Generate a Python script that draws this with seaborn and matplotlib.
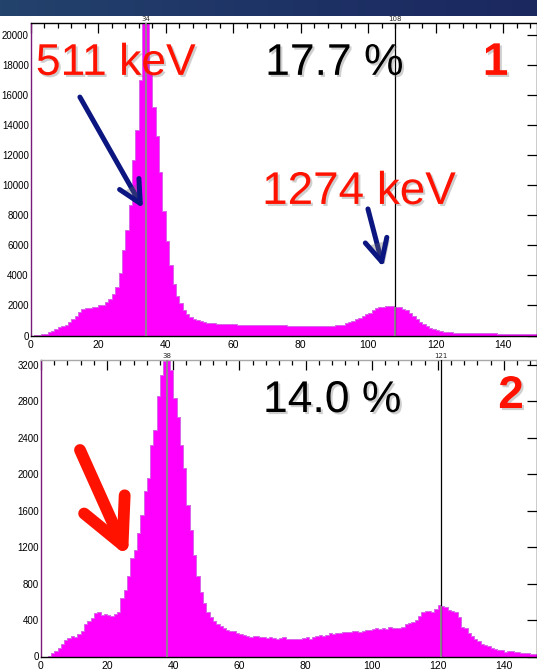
import numpy as np
import pandas as pd
import matplotlib
matplotlib.use("Agg")
import matplotlib.pyplot as plt
import matplotlib.patheffects as pe
from matplotlib.colors import LinearSegmentedColormap
from matplotlib.ticker import MultipleLocator
import seaborn as sns

# ---------------- data ----------------
bin_edges = list(range(0, 151))

top_counts = [
    0, 20, 40, 70, 100, 200, 330, 440, 550, 600,
    730, 890, 1100, 1330, 1550, 1780, 1840, 1850, 1890, 1930,
    2000, 2060, 2220, 2440, 2780, 3220, 4150, 5660, 7000, 8660,
    11660, 13650, 17000, 21500, 21500, 17500, 15200, 13300, 10900, 8300,
    6300, 4660, 3440, 2660, 2150, 1680, 1400, 1240, 1100, 1020,
    955, 890, 845, 820, 800, 780, 760, 750, 745, 740,
    735, 720, 715, 710, 705, 700, 700, 695, 690, 690,
    685, 680, 680, 675, 670, 670, 665, 660, 660, 655,
    655, 650, 650, 648, 645, 645, 648, 650, 655, 665,
    680, 700, 730, 820, 890, 955, 1065, 1150, 1265, 1400,
    1510, 1665, 1800, 1890, 1930, 1975, 1990, 1970, 1930, 1890,
    1780, 1665, 1490, 1310, 1110, 930, 780, 620, 510, 420,
    355, 310, 265, 222, 200, 185, 180, 175, 170, 165,
    160, 155, 150, 150, 145, 140, 140, 135, 130, 130,
    125, 120, 120, 115, 110, 110, 105, 100, 100, 95,
]

bottom_counts = [
    0, 0, 10, 37, 55, 90, 135, 180, 200, 220,
    210, 245, 280, 355, 385, 420, 480, 490, 455, 470,
    455, 445, 465, 485, 640, 730, 880, 1080, 1170, 1350,
    1550, 1810, 1955, 2320, 2485, 2850, 3090, 3235, 3300, 3140,
    2830, 2630, 2320, 2065, 1660, 1390, 1115, 880, 710, 585,
    490, 430, 385, 355, 330, 310, 290, 280, 275, 258,
    248, 240, 222, 215, 222, 222, 218, 215, 207, 210,
    200, 196, 200, 218, 193, 193, 196, 196, 193, 207,
    211, 193, 211, 226, 233, 229, 240, 255, 251, 262,
    255, 266, 273, 266, 284, 277, 273, 280, 288, 295,
    302, 309, 306, 309, 302, 324, 317, 313, 317, 324,
    357, 368, 379, 404, 448, 484, 502, 495, 491, 524,
    568, 550, 539, 513, 495, 484, 433, 324, 313, 258,
    222, 193, 175, 142, 127, 120, 95, 84, 76, 69,
    51, 62, 55, 44, 44, 40, 33, 33, 25, 25,
]

top_peak_line = 34
top_marker_line = 108
bottom_peak_line = 38
bottom_marker_line = 121

x_ticks = [0, 20, 40, 60, 80, 100, 120, 140]
top_yticks = [0, 2000, 4000, 6000, 8000, 10000, 12000, 14000, 16000, 18000, 20000]
bottom_yticks = [0, 400, 800, 1200, 1600, 2000, 2400, 2800, 3200]
top_ylim = 20800
bottom_ylim = 3250

top_texts = ["511 keV", "17.7 %", "1", "1274 keV"]
bottom_texts = ["14.0 %", "2"]

# ---------------- style ----------------
sns.set_style("white")
plt.rcParams["font.family"] = ["Liberation Sans", "DejaVu Sans"]

MAG = "#ff00ff"
EDGE = "#d866e8"
NAVY = "#0c1680"
RED = "#ff1200"
GRAYLINE = "#8c8c8c"

W, H = 537, 671
fig = plt.figure(figsize=(W / 100, H / 100), dpi=100)
fig.patch.set_facecolor("white")


def frac_box(left, top, right, bottom):
    return [left / W, 1 - bottom / H, (right - left) / W, (bottom - top) / H]


ax1 = fig.add_axes(frac_box(30.8, 23, 537, 335.5))
ax2 = fig.add_axes(frac_box(41, 360, 537, 656.5))

centers = [e + 0.5 for e in bin_edges[:-1]]
df_top = pd.DataFrame({"channel": centers, "counts": top_counts})
df_bot = pd.DataFrame({"channel": centers, "counts": bottom_counts})

for ax, df in ((ax1, df_top), (ax2, df_bot)):
    sns.histplot(data=df, x="channel", weights="counts", bins=bin_edges,
                 element="step", fill=True, color=MAG, alpha=1.0,
                 edgecolor=EDGE, linewidth=0.7, ax=ax, zorder=2)
    ax.set_xlabel("")
    ax.set_ylabel("")
    ax.set_xlim(0, 150)
    ax.set_xticks(x_ticks)
    ax.xaxis.set_minor_locator(MultipleLocator(4))
    ax.tick_params(which="both", direction="in", top=True, right=True,
                   colors="black", width=0.9)
    ax.tick_params(which="major", length=7)
    ax.tick_params(which="minor", length=3.5)
    ax.tick_params(axis="x", labelsize=7.5, pad=3)
    ax.tick_params(axis="y", labelsize=7, pad=1.5)
    ax.tick_params(axis="y", which="minor", length=0)
    for s in ax.spines.values():
        s.set_color("black")
        s.set_linewidth(1.0)
    ax.spines["left"].set_color("#7a1a7a")
    ax.grid(False)

ax1.set_ylim(0, top_ylim)
ax1.set_yticks(top_yticks)
ax2.set_ylim(0, bottom_ylim)
ax2.set_yticks(bottom_yticks)
ax2.spines["top"].set_color("#a8a8a8")

# marker lines
ax1.axvline(top_peak_line, color=GRAYLINE, lw=1.3, zorder=3)
ax1.axvline(top_marker_line, color="black", lw=0.9, zorder=3)
ax1.vlines(top_marker_line, 0, top_counts[top_marker_line], color=GRAYLINE, lw=1.3, zorder=4)
ax2.axvline(bottom_peak_line, color=GRAYLINE, lw=1.3, zorder=3)
ax2.axvline(bottom_marker_line, color="black", lw=0.9, zorder=3)
ax2.vlines(bottom_marker_line, 0, bottom_counts[bottom_marker_line], color=GRAYLINE, lw=1.3, zorder=4)

for ax, v in ((ax1, top_peak_line), (ax1, top_marker_line),
              (ax2, bottom_peak_line), (ax2, bottom_marker_line)):
    ax.text(v, 1.004, str(v), transform=ax.get_xaxis_transform(),
            ha="center", va="bottom", fontsize=5, family="DejaVu Sans",
            clip_on=False)

# big annotations
shadow = [pe.SimplePatchShadow(offset=(1.5, -1.5), shadow_rgbFace="#777777", alpha=0.35), pe.Normal()]

ax1.text(0.010, 0.834, top_texts[0], transform=ax1.transAxes, color=RED,
         fontsize=32, va="baseline", ha="left", path_effects=shadow, zorder=6)
ax1.text(0.463, 0.834, top_texts[1], transform=ax1.transAxes, color="black",
         fontsize=32, va="baseline", ha="left", path_effects=shadow, zorder=6)
ax1.text(0.893, 0.834, top_texts[2], transform=ax1.transAxes, color=RED,
         fontsize=33, fontweight="bold", va="baseline", ha="left", path_effects=shadow, zorder=6)
ax1.text(0.457, 0.421, top_texts[3], transform=ax1.transAxes, color=RED,
         fontsize=33, va="baseline", ha="left", path_effects=shadow, zorder=6)

ax2.text(0.4476, 0.8246, bottom_texts[0], transform=ax2.transAxes, color="black",
         fontsize=32, va="baseline", ha="left", path_effects=shadow, zorder=6)
ax2.text(0.922, 0.838, bottom_texts[1], transform=ax2.transAxes, color=RED,
         fontsize=33, fontweight="bold", va="baseline", ha="left", path_effects=shadow, zorder=6)

arrow_shadow = [pe.SimplePatchShadow(offset=(2, -2), shadow_rgbFace="#666666", alpha=0.35), pe.Normal()]

ax1.annotate("", xy=(0.2216, 0.4074), xytext=(0.097, 0.763),
             xycoords="axes fraction", textcoords="axes fraction",
             arrowprops=dict(arrowstyle="->,head_length=0.8,head_width=0.4",
                             color=NAVY, lw=3.6, shrinkA=0, shrinkB=0,
                             mutation_scale=20, path_effects=arrow_shadow),
             zorder=7)
ax1.annotate("", xy=(0.696, 0.219), xytext=(0.666, 0.405),
             xycoords="axes fraction", textcoords="axes fraction",
             arrowprops=dict(arrowstyle="->,head_length=0.8,head_width=0.4",
                             color=NAVY, lw=3.6, shrinkA=0, shrinkB=0,
                             mutation_scale=20, path_effects=arrow_shadow),
             zorder=7)
ax2.annotate("", xy=(0.1754, 0.3356), xytext=(0.0786, 0.6965),
             xycoords="axes fraction", textcoords="axes fraction",
             arrowprops=dict(arrowstyle="->,head_length=1.6,head_width=0.8",
                             color=RED, lw=8.5, shrinkA=0, shrinkB=0,
                             mutation_scale=20, capstyle="round", joinstyle="round"),
             zorder=7)

# top banner
axb = fig.add_axes([0, 1 - 16 / H, 1, 16 / H])
grad = np.linspace(0, 1, 256).reshape(1, -1)
cmap = LinearSegmentedColormap.from_list("banner", ["#23426c", "#1e3366", "#1b2860"])
axb.imshow(grad, aspect="auto", cmap=cmap, extent=[0, 1, 0, 1])
axb.axis("off")

fig.savefig("out.png", dpi=100)
